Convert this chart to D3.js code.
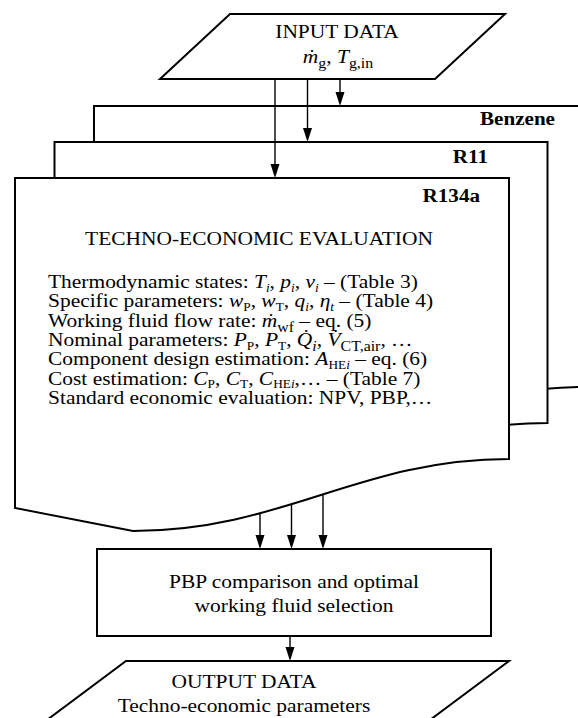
<!DOCTYPE html>
<html><head><meta charset="utf-8">
<script src="https://cdn.jsdelivr.net/npm/d3@7"></script>
<style>html,body{margin:0;padding:0;background:#fff;} svg{display:block;} text{white-space:pre;}</style>
</head><body><svg id="c" width="578" height="718"></svg>
<script>
// ---------- content ----------
const fluids = ["Benzene", "R11", "R134a"];           // back -> front
const inputTitle = "INPUT DATA";
const inputVars = "{d:ṁ}{m:g}, {i:T}{m:g,in}";
const evalTitle = "TECHNO-ECONOMIC EVALUATION";
const evalItems = [
  "Thermodynamic states: {i:T}{si:i}, {i:p}{si:i}, {i:v}{si:i} – (Table 3)",
  "Specific parameters: {i:w}{s:P}, {i:w}{s:T}, {i:q}{si:i}, {i:η}{si:t} – (Table 4)",
  "Working fluid flow rate: {d:ṁ}{m:wf} – eq. (5)",
  "Nominal parameters: {i:P}{s:P}, {i:P}{s:T}, {d:Q̇}{mi:i}, {d:V̇}{m:CT,air}, …",
  "Component design estimation: {i:A}{s:HE}{si:i} – eq. (6)",
  "Cost estimation: {i:C}{s:P}, {i:C}{s:T}, {i:C}{s:HE}{si:i},… – (Table 7)",
  "Standard economic evaluation: NPV, PBP,…"
];
const selectionLines = ["PBP comparison and optimal", "working fluid selection"];
const outputLines = ["OUTPUT DATA", "Techno-economic parameters"];

// ---------- layout ----------
const W = 578, H = 718;
const FONT = "'Liberation Serif','Times New Roman',Times,serif";
const SX = 1.1;   // the reference figure is slightly stretched horizontally
const svg = d3.select("#c");
svg.append("rect").attr("width", W).attr("height", H).attr("fill", "#fff");

const layer = d3.scaleLinear().domain([0, fluids.length - 1]);
const boxLeft = layer.copy().range([94, 15]);
const boxTop = layer.copy().range([106, 178]);
const boxRight = layer.copy().range([586, 509]);
const labelX = [555, 488, 480];
const labelY = [125, 163, 202];

// front document bottom geometry (R134a)
const front = {right: 509, rightBottom: 459, leftBottom: 508,
  trough: [133, 531], c1: [283, 531], c2: [359, 459]};

function bez(p0, p1, p2, p3, t) {
  const u = 1 - t;
  return u*u*u*p0 + 3*u*u*t*p1 + 3*u*t*t*p2 + t*t*t*p3;
}
function curveYAt(x) {
  let lo = 0, hi = 1;
  for (let k = 0; k < 50; k++) {
    const m = (lo + hi) / 2;
    const xm = bez(front.trough[0], front.c1[0], front.c2[0], front.right, m);
    if (xm < x) lo = m; else hi = m;
  }
  const t = (lo + hi) / 2;
  return bez(front.trough[1], front.c1[1], front.c2[1], front.rightBottom, t);
}

function docPath(i) {
  const dx = boxRight(i) - front.right, dy = boxTop(i) - boxTop(fluids.length - 1);
  const p = d3.path();
  p.moveTo(boxLeft(i), boxTop(i));
  p.lineTo(boxRight(i), boxTop(i));
  p.lineTo(boxRight(i), front.rightBottom + dy);
  p.bezierCurveTo(front.c2[0] + dx, front.c2[1] + dy, front.c1[0] + dx, front.c1[1] + dy,
                  front.trough[0] + dx, front.trough[1] + dy);
  p.lineTo(boxLeft(i), front.leftBottom + dy);
  p.closePath();
  return p.toString();
}

// rich text renderer (italic / subscript markup)
function rich(sel, str, x, y, size, anchor, weight) {
  const g = sel.append("g").attr("transform", `translate(${x},${y}) scale(${SX},1)`);
  const t = g.append("text").attr("x", 0).attr("y", 0)
    .attr("font-family", FONT).attr("font-size", size)
    .attr("font-weight", weight || "normal")
    .attr("text-anchor", anchor || "start").attr("fill", "#000");
  const re = /\{(\w+):([^}]*)\}/g;
  let last = 0, m, shift = 0;
  const add = (txt, kind) => {
    const ts = t.append("tspan").text(txt);
    let target = 0;
    if (kind === "i" || kind === "d" || kind === "si" || kind === "mi") ts.attr("font-style", "italic");
    if (kind === "s" || kind === "si") { ts.attr("font-size", size * 0.62); target = size * 0.18; }
    if (kind === "m" || kind === "mi") { ts.attr("font-size", size * 0.74); target = size * 0.28; }
    if (target !== shift) { ts.attr("dy", target - shift); shift = target; }
  };
  while ((m = re.exec(str))) {
    if (m.index > last) add(str.slice(last, m.index), "n");
    add(m[2], m[1]);
    last = re.lastIndex;
  }
  if (last < str.length) add(str.slice(last), "n");
  return t;
}

function arrow(x, y1, y2) {
  svg.append("line").attr("x1", x).attr("x2", x).attr("y1", y1).attr("y2", y2 - 10)
    .attr("stroke", "#000").attr("stroke-width", 1.4);
  svg.append("path").attr("d", `M${x},${y2} L${x - 4.5},${y2 - 14} L${x + 4.5},${y2 - 14} Z`)
    .attr("fill", "#000");
}

// ---------- input parallelogram ----------
const inp = {top: 14, bottom: 79, tl: 230, tr: 505, slant: 70};
svg.append("path")
  .attr("d", `M${inp.tl},${inp.top} L${inp.tr},${inp.top} L${inp.tr - inp.slant},${inp.bottom} L${inp.tl - inp.slant},${inp.bottom} Z`)
  .attr("fill", "#fff").attr("stroke", "#000").attr("stroke-width", 2);
rich(svg, inputTitle, 337, 38, 19.5, "middle");
rich(svg, inputVars, 338, 63, 19.5, "middle");

// ---------- stacked fluid documents ----------
fluids.forEach((f, i) => {
  svg.append("path").attr("d", docPath(i))
    .attr("fill", "#fff").attr("stroke", "#000").attr("stroke-width", 2)
    .attr("stroke-linejoin", "miter");
  rich(svg, f, labelX[i], labelY[i], 19.2, "end", "bold");
});

// arrows input -> each fluid
const inArrowX = d3.scalePoint().domain(fluids.slice().reverse()).range([275, 340]);
fluids.forEach((f, i) => arrow(inArrowX(f), inp.bottom, boxTop(i)));

// evaluation text
rich(svg, evalTitle, 259, 245, 19.5, "middle");
const itemY = d3.scalePoint().domain(d3.range(evalItems.length)).range([288, 404]);
evalItems.forEach((s, k) => rich(svg, s, 48, itemY(k), 19.5, "start"));

// ---------- selection box ----------
const sel = {x0: 97, x1: 491, y0: 549, y1: 636};
svg.append("rect").attr("x", sel.x0).attr("y", sel.y0)
  .attr("width", sel.x1 - sel.x0).attr("height", sel.y1 - sel.y0)
  .attr("fill", "#fff").attr("stroke", "#000").attr("stroke-width", 2);
const selY = d3.scalePoint().domain(d3.range(selectionLines.length)).range([588, 612]);
selectionLines.forEach((s, k) => rich(svg, s, 294, selY(k), 19.5, "middle"));

const outArrowX = d3.scalePoint().domain(fluids.slice().reverse()).range([260, 323]);
fluids.forEach(f => {
  const x = outArrowX(f);
  arrow(x, curveYAt(x), sel.y0);
});

// ---------- output parallelogram ----------
const out = {top: 661, bottom: 740, tl: 126, tr: 509, slope: 1.34};
const sl = (out.bottom - out.top) * out.slope;
svg.append("path")
  .attr("d", `M${out.tl},${out.top} L${out.tr},${out.top} L${out.tr - sl},${out.bottom} L${out.tl - sl},${out.bottom} Z`)
  .attr("fill", "#fff").attr("stroke", "#000").attr("stroke-width", 2);
arrow(290, sel.y1, out.top);
const outY = d3.scalePoint().domain(d3.range(outputLines.length)).range([688, 712]);
outputLines.forEach((s, k) => rich(svg, s, 244, outY(k), 19.5, "middle"));
</script>
</body></html>
